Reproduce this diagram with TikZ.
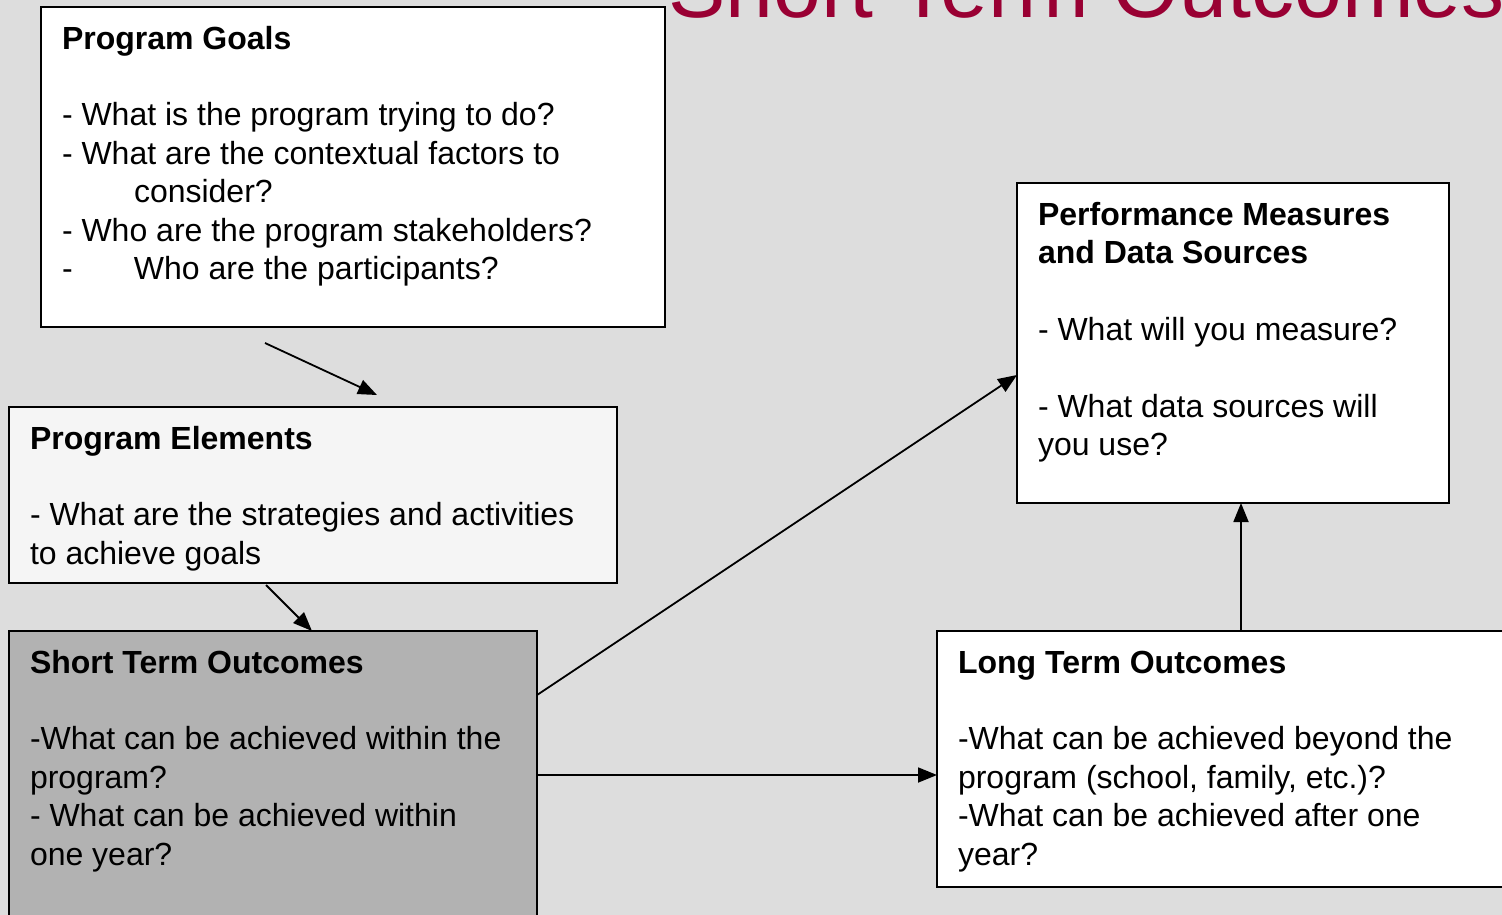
\documentclass[tikz,border=0pt]{standalone}
\usepackage{fontspec}
\setmainfont{Liberation Sans}
\usetikzlibrary{arrows.meta}
\definecolor{bg}{RGB}{221,221,221}
\definecolor{elemfill}{RGB}{245,245,245}
\definecolor{shortfill}{RGB}{178,178,178}
\definecolor{titlered}{RGB}{153,0,51}
\tikzset{
  box/.style={draw=black, line width=1.6pt, anchor=north west, inner sep=0pt, outer sep=0pt},
  txt/.style={anchor=north west, inner sep=0pt, outer sep=0pt, align=left,
    font=\fontsize{32}{38.4}\selectfont},
  arr/.style={draw=black, line width=1.8pt, -{Triangle[length=19pt,width=15pt]}}
}
\newcommand{\fst}{\rule{0pt}{30pt}}
\begin{document}
\begin{tikzpicture}[x=1pt, y=-1pt]
\useasboundingbox (0,0) rectangle (1502,915);
\clip (0,0) rectangle (1502,915);
\fill[bg] (0,0) rectangle (1502,915);

% title
\node[anchor=base west, inner sep=0pt, text=titlered, font=\fontsize{86}{90}\selectfont] (title) at (668,18) {Short Term Outcomes};

% boxes
\node[box, fill=white, minimum width=624pt, minimum height=320pt] (goals) at (41,7) {};
\node[box, fill=elemfill, minimum width=608pt, minimum height=176pt] (elem) at (9,407) {};
\node[box, fill=shortfill, minimum width=528pt, minimum height=300pt] (short) at (9,631) {};
\node[box, fill=white, minimum width=432pt, minimum height=320pt] (perf) at (1017,183) {};
\node[box, fill=white, minimum width=580pt, minimum height=256pt] (long) at (937,631) {};

% texts
\node[txt] (goalstxt) at (62,19) {\fst\textbf{Program Goals}\\ \mbox{}\\
- What is the program trying to do?\\
- What are the contextual factors to\\
\hspace*{72pt}consider?\\
- Who are the program stakeholders?\\
\makebox[72pt][l]{-}Who are the participants?};

\node[txt] (elemtxt) at (30,419) {\fst\textbf{Program Elements}\\ \mbox{}\\
- What are the strategies and activities\\
to achieve goals};

\node[txt] (shorttxt) at (30,643) {\fst\textbf{Short Term Outcomes}\\ \mbox{}\\
-What can be achieved within the\\
program?\\
- What can be achieved within\\
one year?};

\node[txt] (longtxt) at (958,643) {\fst\textbf{Long Term Outcomes}\\ \mbox{}\\
-What can be achieved beyond the\\
program (school, family, etc.)?\\
-What can be achieved after one\\
year?};

\node[txt] (perftxt) at (1038,195) {\fst\textbf{Performance Measures}\\
\textbf{and Data Sources}\\ \mbox{}\\
- What will you measure?\\ \mbox{}\\
- What data sources will\\
you use?};

% connector end points
\coordinate (g1) at (265,343);
\coordinate (e1) at (377,395);
\coordinate (e2) at (266,585);
\coordinate (s1) at (312,631);
\coordinate (s2) at (537,695);
\coordinate (p1) at (1017,375);
\coordinate (s3) at (537,775);
\coordinate (l1) at (937,775);
\coordinate (l2) at (1241,631);
\coordinate (p2) at (1241,503);

\draw[arr] (g1) -- (e1);
\draw[arr] (e2) -- (s1);
\draw[arr] (s2) -- (p1);
\draw[arr] (s3) -- (l1);
\draw[arr] (l2) -- (p2);
\end{tikzpicture}
\end{document}
